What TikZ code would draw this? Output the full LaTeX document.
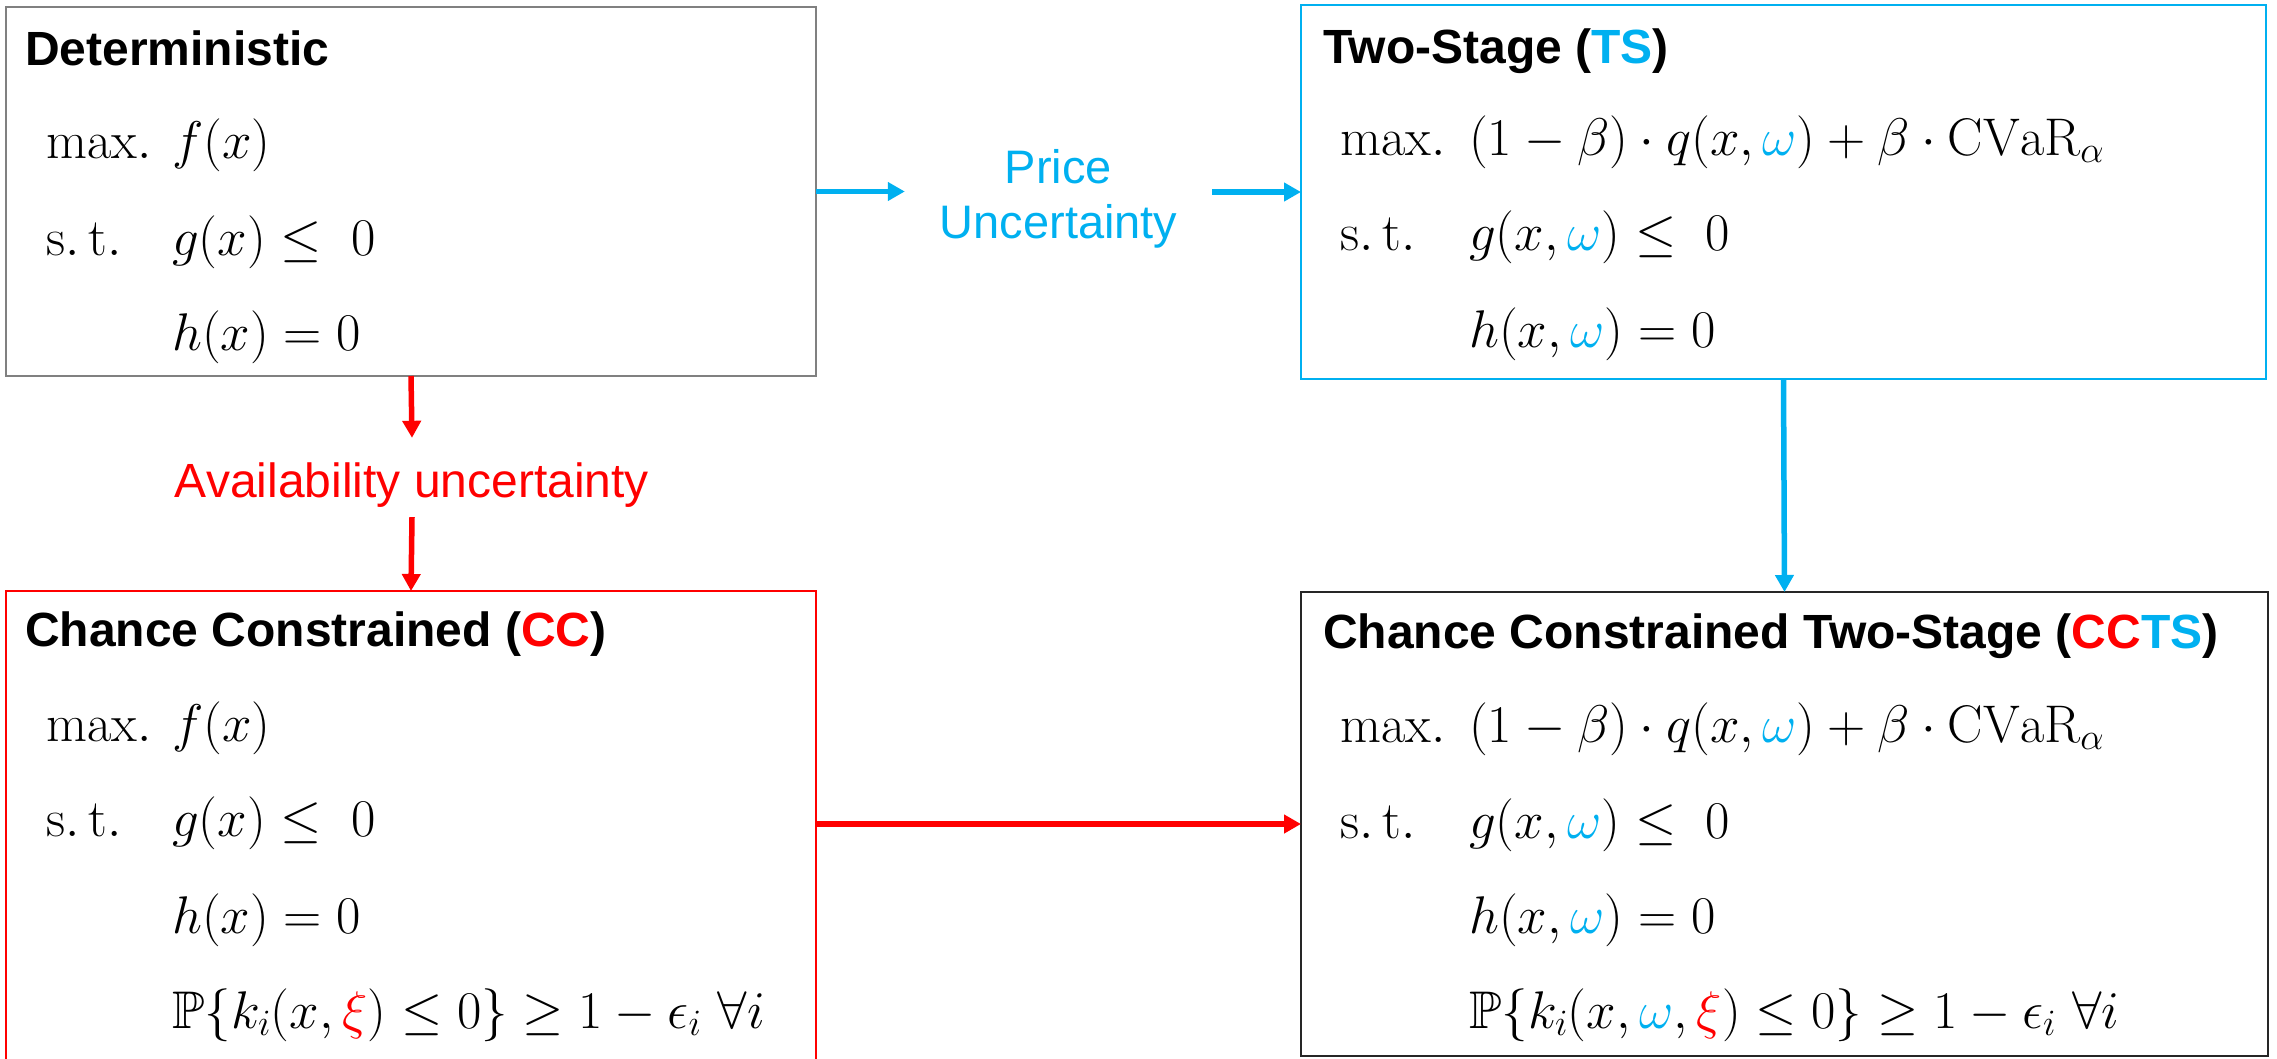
\RequirePackage{fix-cm}
\documentclass[tikz,border=0pt]{standalone}
\usepackage{amssymb}
\usepackage{fontspec}
\setsansfont{Liberation Sans}
\usetikzlibrary{arrows.meta}
\definecolor{tsblue}{RGB}{0,176,240}
\definecolor{ccred}{RGB}{255,0,0}
\definecolor{detgray}{RGB}{128,128,128}
\definecolor{ccdark}{RGB}{38,38,38}
\begin{document}
\begin{tikzpicture}[x=1pt,y=1pt,
  box/.style={draw, line width=2.5pt, anchor=north west, inner sep=0pt, outer sep=0pt},
  ttl/.style={anchor=base west, inner sep=0pt, font=\sffamily\bfseries\fontsize{48}{56}\selectfont},
  mt/.style={anchor=base west, inner sep=0pt, font=\fontsize{53}{58}\selectfont},
  lbl/.style={font=\sffamily\fontsize{47}{55}\selectfont, inner sep=0pt, align=center},
  arr/.style={line width=5.5pt, -{Triangle[length=17pt,width=18pt]}},
]
\useasboundingbox (0,0) rectangle (2277,-1058);
\clip (0,0) rectangle (2277,-1058);

% boxes
\node[box, draw=detgray, minimum width=810, minimum height=369] (det) at (6,-7) {};
\node[box, draw=tsblue, minimum width=965, minimum height=374] (ts) at (1301,-5) {};
\node[box, draw=ccred, minimum width=810, minimum height=484] (cc) at (6,-591) {};
\node[box, draw=ccdark, minimum width=967, minimum height=464] (ccts) at (1301,-592) {};

% Deterministic
\node[ttl] (dT) at (25,-65) {Deterministic};
\node[mt] (d1a) at (46,-158) {$\mathrm{max.}$};
\node[mt] (d1b) at (172,-158) {$f(x)$};
\node[mt] (d2a) at (46,-255) {$\mathrm{s.\,t.}$};
\node[mt] (d2b) at (172,-255) {$g(x)\le\;0$};
\node[mt] (d3b) at (172,-350) {$h(x)=0$};

% Two-Stage
\node[ttl] (tT) at (1323,-63) {Two-Stage (\textcolor{tsblue}{TS})};
\node[mt] (t1a) at (1340,-155) {$\mathrm{max.}$};
\node[mt] (t1b) at (1469,-155) {$(1-\beta)\cdot q(x,\textcolor{tsblue}{\omega})+\beta\cdot\mathrm{CVaR}_{\alpha}$};
\node[mt] (t2a) at (1340,-250) {$\mathrm{s.\,t.}$};
\node[mt] (t2b) at (1469,-250) {$g(x,\textcolor{tsblue}{\omega})\le\;0$};
\node[mt] (t3b) at (1469,-347) {$h(x,\textcolor{tsblue}{\omega})=0$};

% Chance Constrained
\node[ttl] (cT) at (25,-646) {Chance Constrained (\textcolor{ccred}{CC})};
\node[mt] (c1a) at (46,-741) {$\mathrm{max.}$};
\node[mt] (c1b) at (172,-741) {$f(x)$};
\node[mt] (c2a) at (46,-836) {$\mathrm{s.\,t.}$};
\node[mt] (c2b) at (172,-836) {$g(x)\le\;0$};
\node[mt] (c3b) at (172,-933) {$h(x)=0$};
\node[mt] (c4b) at (172,-1028) {$\mathbb{P}\{k_i(x,\textcolor{ccred}{\xi})\le 0\}\ge 1-\epsilon_i\ \forall i$};

% Chance Constrained Two-Stage
\node[ttl] (xT) at (1323,-648) {Chance Constrained Two-Stage (\textcolor{ccred}{CC}\textcolor{tsblue}{TS})};
\node[mt] (x1a) at (1340,-742) {$\mathrm{max.}$};
\node[mt] (x1b) at (1469,-742) {$(1-\beta)\cdot q(x,\textcolor{tsblue}{\omega})+\beta\cdot\mathrm{CVaR}_{\alpha}$};
\node[mt] (x2a) at (1340,-838) {$\mathrm{s.\,t.}$};
\node[mt] (x2b) at (1469,-838) {$g(x,\textcolor{tsblue}{\omega})\le\;0$};
\node[mt] (x3b) at (1469,-933) {$h(x,\textcolor{tsblue}{\omega})=0$};
\node[mt] (x4b) at (1469,-1028) {$\mathbb{P}\{k_i(x,\textcolor{tsblue}{\omega},\textcolor{ccred}{\xi})\le 0\}\ge 1-\epsilon_i\ \forall i$};

% labels
\node[lbl, text=tsblue, minimum width=307] (price) at (1058.5,-199) {Price\\Uncertainty};
\node[lbl, font=\sffamily\fontsize{48}{55}\selectfont, text=ccred, anchor=base, text height=59pt, text depth=20pt] (avail) at (412,-497) {Availability uncertainty};

% connectors
\draw[arr, tsblue] (det.east) -- (det.east -| price.west);
\draw[arr, tsblue] (ts.west -| price.east) -- (ts.west);
\draw[arr, ccred] (det.south) -- (avail.north);
\draw[arr, ccred] (avail.south) -- (cc.north);
\draw[arr, tsblue] (ts.south) -- (ccts.north);
\draw[arr, ccred] (ccts.west -| cc.east) -- (ccts.west);
\end{tikzpicture}
\end{document}
